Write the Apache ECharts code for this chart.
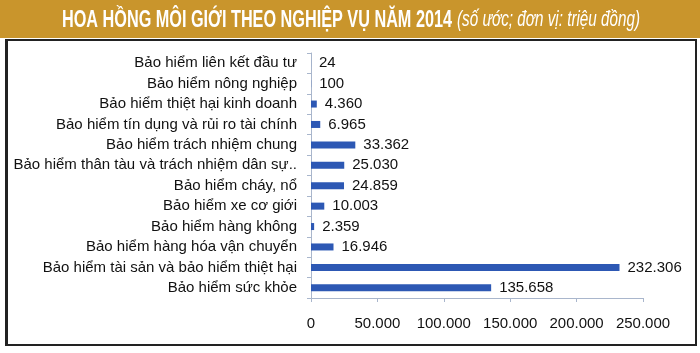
<!DOCTYPE html>
<html>
<head>
<meta charset="utf-8">
<script src="https://cdn.jsdelivr.net/npm/echarts@6/dist/echarts.min.js"></script>
<style>
  html, body { margin: 0; padding: 0; background: #fff; }
  #chart { width: 700px; height: 353px; }
</style>
</head>
<body>
<div id="chart"></div>
<script>
// loại hình bảo hiểm (từ trên xuống)
var categories = [
  'Bảo hiểm liên kết đầu tư',
  'Bảo hiểm nông nghiệp',
  'Bảo hiểm thiệt hại kinh doanh',
  'Bảo hiểm tín dụng và rủi ro tài chính',
  'Bảo hiểm trách nhiệm chung',
  'Bảo hiểm thân tàu và trách nhiệm dân sự..',
  'Bảo hiểm cháy, nổ',
  'Bảo hiểm xe cơ giới',
  'Bảo hiểm hàng không',
  'Bảo hiểm hàng hóa vận chuyển',
  'Bảo hiểm tài sản và bảo hiểm thiệt hại',
  'Bảo hiểm sức khỏe'
]
// triệu đồng
var values = [24, 100, 4360, 6965, 33362, 25030, 24859, 10003, 2359, 16946, 232306, 135658]
var xTicks = [0, 50000, 100000, 150000, 200000, 250000]

var titleMain = 'HOA HỒNG MÔI GIỚI THEO NGHIỆP VỤ NĂM 2014'
var titleNote = '(số ước; đơn vị: triệu đồng)'

function fmt(v) {
  return String(v).replace(/\B(?=(\d{3})+(?!\d))/g, '.')
}

// the title font is a condensed face, squeeze a normal one to the same width
var ctx = document.createElement('canvas').getContext('2d')
ctx.font = 'bold 24px "Liberation Sans"'
var mainScale = 390 / ctx.measureText(titleMain).width
ctx.font = 'italic 22px "Liberation Sans"'
var noteScale = 183 / ctx.measureText(titleNote).width

var chart = echarts.init(document.getElementById('chart'))
chart.setOption({
  backgroundColor: '#fff',
  animation: false,
  textStyle: { fontFamily: 'Liberation Sans, Arial, sans-serif' },
  graphic: [
    {
      type: 'rect',
      shape: { x: 0, y: 0, width: 700, height: 38 },
      style: { fill: '#c9952c' }
    },
    {
      type: 'text',
      x: 62,
      y: 20,
      scaleX: mainScale,
      style: {
        text: titleMain,
        fill: '#fff',
        fontSize: 24,
        fontWeight: 'bold',
        fontFamily: 'Liberation Sans',
        verticalAlign: 'middle'
      }
    },
    {
      type: 'text',
      x: 457,
      y: 20,
      scaleX: noteScale,
      style: {
        text: titleNote,
        fill: '#fff',
        fontSize: 22,
        fontStyle: 'italic',
        fontFamily: 'Liberation Sans',
        verticalAlign: 'middle'
      }
    },
    {
      type: 'rect',
      shape: { x: 6, y: 40, width: 690, height: 305 },
      style: { fill: 'none', stroke: '#222', lineWidth: 2 }
    },
    {
      type: 'rect',
      shape: { x: 5, y: 40, width: 3, height: 305 },
      style: { fill: '#222' }
    }
  ],
  grid: {
    left: 311,
    right: 57,
    top: 53,
    bottom: 55,
    containLabel: false
  },
  xAxis: {
    type: 'value',
    min: 0,
    max: 250000,
    interval: 50000,
    splitLine: { show: false },
    axisLine: { show: true, lineStyle: { color: '#a9b6cc' } },
    axisTick: { show: true, length: 4, lineStyle: { color: '#a9b6cc' } },
    axisLabel: {
      color: '#111',
      fontSize: 15,
      margin: 18,
      formatter: function (v) { return xTicks.indexOf(v) >= 0 ? fmt(v) : '' }
    }
  },
  yAxis: {
    type: 'category',
    data: categories,
    inverse: true,
    axisLine: { show: true, lineStyle: { color: '#a9b6cc' } },
    axisTick: { show: true, length: 4, lineStyle: { color: '#a9b6cc' } },
    axisLabel: { color: '#111', fontSize: 15, margin: 14 }
  },
  series: [{
    type: 'bar',
    data: values,
    barWidth: 7,
    itemStyle: { color: '#2d58b4' },
    label: {
      show: true,
      position: 'right',
      distance: 8,
      color: '#111',
      fontSize: 15,
      formatter: function (p) { return fmt(p.value) }
    }
  }]
})
</script>
</body>
</html>
